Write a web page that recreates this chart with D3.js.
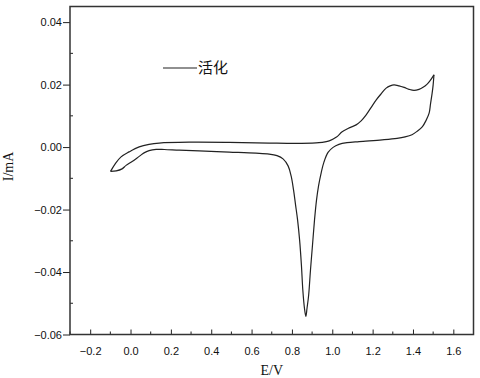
<!DOCTYPE html>
<html>
<head>
<meta charset="utf-8">
<script src="https://cdn.jsdelivr.net/npm/d3@7"></script>
<style>
    body { margin: 0; background: #fff; }
    .tick-label { font-family: "Liberation Sans", Arial, sans-serif; font-size: 11px; fill: #111; }
    .axis-title { font-family: "Liberation Serif", "Times New Roman", serif; font-size: 14px; fill: #111; }
    .legend-text { font-family: "Noto Sans CJK SC", sans-serif; font-size: 15px; fill: #111; }
</style>
</head>
<body>
<div id="chart"></div>
<script>
// forward scan (-0.1 V -> 1.5 V)
let forwardE = [-0.099, -0.076, -0.047, -0.007, 0.043, 0.092, 0.142, 0.290, 0.489, 0.687, 0.836, 0.934,
    0.985, 1.019, 1.049, 1.084, 1.118, 1.143, 1.168, 1.193, 1.218, 1.242, 1.267, 1.287, 1.306, 1.331,
    1.356, 1.381, 1.405, 1.430, 1.450, 1.469, 1.484, 1.504];
let forwardI = [-0.00778, -0.00538, -0.00314, -0.00154, 0.00006, 0.00086, 0.00128, 0.00157, 0.00151,
    0.00128, 0.00119, 0.00141, 0.00199, 0.00311, 0.00487, 0.00615, 0.00711, 0.00839, 0.01031, 0.01272,
    0.01512, 0.01704, 0.01887, 0.01960, 0.01992, 0.01960, 0.01909, 0.01848, 0.01816, 0.01848, 0.01912,
    0.02008, 0.02120, 0.02313];

// reverse scan (1.5 V -> -0.1 V)
let reverseE = [1.504, 1.500, 1.495, 1.487, 1.480, 1.465, 1.447, 1.420, 1.395, 1.361, 1.321, 1.247,
    1.133, 1.073, 1.033, 1.004, 0.979, 0.959, 0.945, 0.932, 0.922, 0.912, 0.902, 0.892, 0.883, 0.875,
    0.869, 0.862, 0.854, 0.847, 0.838, 0.828, 0.818, 0.808, 0.796, 0.781, 0.756, 0.726, 0.687, 0.622,
    0.489, 0.340, 0.241, 0.167, 0.127, 0.092, 0.067, 0.043, 0.008, -0.022, -0.042, -0.071, -0.099];
let reverseI = [0.02313, 0.01992, 0.01726, 0.01384, 0.01086, 0.00855, 0.00657, 0.00503, 0.00397,
    0.00327, 0.00279, 0.00231, 0.00176, 0.00141, 0.00086, -0.0001, -0.0017, -0.00474, -0.00826,
    -0.01243, -0.01691, -0.02332, -0.03133, -0.03933, -0.04734, -0.05151, -0.05423, -0.05151, -0.04574,
    -0.03773, -0.02972, -0.02332, -0.01851, -0.01371, -0.00922, -0.00602, -0.00378, -0.00275, -0.00224,
    -0.00195, -0.0016, -0.00122, -0.00099, -0.00077, -0.00074, -0.00115, -0.00186, -0.00298, -0.00464,
    -0.00586, -0.00698, -0.00762, -0.00778];

let xTicks = [-0.2, 0.0, 0.2, 0.4, 0.6, 0.8, 1.0, 1.2, 1.4, 1.6];
let yTicks = [-0.06, -0.04, -0.02, 0.00, 0.02, 0.04];
let xLabel = "E/V";
let yLabel = "I/mA";
let legendLabel = "活化";

let margin = {top: 6.5, right: 6.5, bottom: 43.5, left: 70};
let width = 480 - margin.left - margin.right;
let height = 378 - margin.top - margin.bottom;

let svg = d3.select("#chart").append("svg")
    .attr("width", 480)
    .attr("height", 378)
    .append("g")
    .attr("transform", `translate(${margin.left}, ${margin.top})`);

let x = d3.scaleLinear().domain([-0.3, 1.7]).range([0, width]);
let y = d3.scaleLinear().domain([-0.06, 0.045]).range([height, 0]);

// minor ticks
let xMinor = d3.range(-0.3, 1.71, 0.1).filter(v => !xTicks.some(t => Math.abs(t - v) < 1e-6));
let yMinor = d3.range(-0.05, 0.0451, 0.02);

svg.selectAll(".x-minor").data(xMinor).enter().append("line")
    .attr("x1", d => x(d)).attr("x2", d => x(d))
    .attr("y1", height).attr("y2", height - 3)
    .attr("stroke", "#222").attr("stroke-width", 1);

svg.selectAll(".y-minor").data(yMinor).enter().append("line")
    .attr("x1", 0).attr("x2", 3)
    .attr("y1", d => y(d)).attr("y2", d => y(d))
    .attr("stroke", "#222").attr("stroke-width", 1);

// x axis: ticks inside
let xAxis = d3.axisBottom(x).tickValues(xTicks).tickFormat(d3.format(".1f"))
    .tickSizeInner(-5).tickSizeOuter(0).tickPadding(13);
let gx = svg.append("g").attr("class", "x-axis")
    .attr("transform", `translate(0, ${height})`)
    .call(xAxis);

// y axis: ticks outside
let yAxis = d3.axisLeft(y).tickValues(yTicks).tickFormat(d3.format(".2f"))
    .tickSizeInner(7).tickSizeOuter(0).tickPadding(1);
let gy = svg.append("g").attr("class", "y-axis").call(yAxis);

[gx, gy].forEach(g => {
    g.select(".domain").remove();
    g.selectAll(".tick line").attr("stroke", "#222").attr("stroke-width", 1);
    g.selectAll(".tick text").attr("class", "tick-label").attr("fill", null);
});
gx.selectAll(".tick text").attr("dy", "0.71em");

// frame
svg.append("rect")
    .attr("x", 0).attr("y", 0)
    .attr("width", width).attr("height", height)
    .attr("fill", "none")
    .attr("stroke", "#333")
    .attr("stroke-width", 1.5);

let line = d3.line()
    .x(d => x(d[0]))
    .y(d => y(d[1]))
    .curve(d3.curveCatmullRom.alpha(0.5));

let forward = forwardE.map((e, i) => [e, forwardI[i]]);
let reverse = reverseE.map((e, i) => [e, reverseI[i]]);

svg.selectAll(".cv").data([forward, reverse]).enter().append("path")
    .attr("class", "cv")
    .attr("d", line)
    .attr("fill", "none")
    .attr("stroke", "#222")
    .attr("stroke-width", 1.2)
    .attr("stroke-linejoin", "round");

// axis titles
svg.append("text")
    .attr("class", "axis-title")
    .attr("x", width / 2)
    .attr("y", height + 40)
    .attr("text-anchor", "middle")
    .text(xLabel);

svg.append("text")
    .attr("class", "axis-title")
    .attr("transform", `translate(${-margin.left + 13}, ${height / 2 - 4}) rotate(-90)`)
    .attr("text-anchor", "middle")
    .text(yLabel);

// legend
let legend = svg.append("g").attr("class", "legend")
    .attr("transform", `translate(${163 - margin.left}, ${68 - margin.top})`);
legend.append("line")
    .attr("x1", 0).attr("x2", 34)
    .attr("y1", 0).attr("y2", 0)
    .attr("stroke", "#222").attr("stroke-width", 1.2);
legend.append("text")
    .attr("class", "legend-text")
    .attr("x", 35)
    .attr("y", 5)
    .text(legendLabel);
</script>
</body>
</html>
